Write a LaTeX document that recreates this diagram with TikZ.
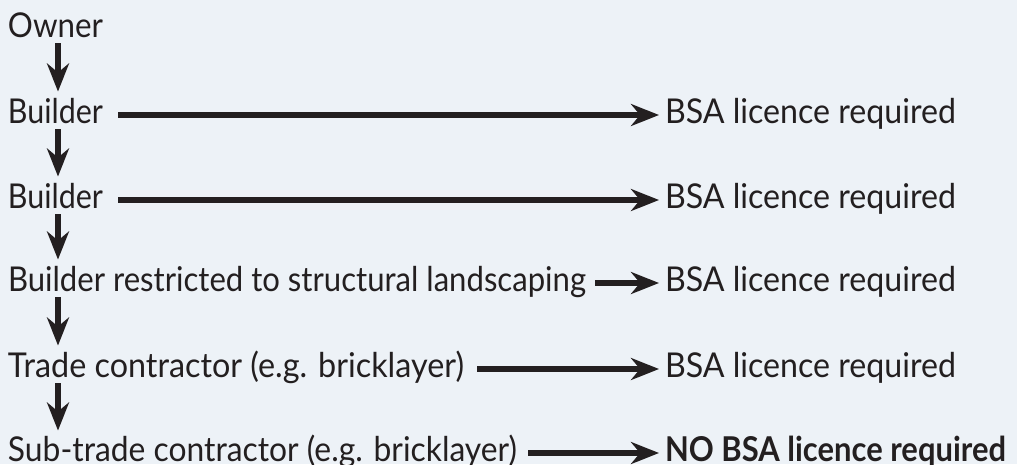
\documentclass[tikz,border=0pt]{standalone}
\usepackage{fontspec}
\setmainfont{Lato}
\usetikzlibrary{arrows.meta}
\definecolor{bgc}{HTML}{EDF2F7}
\definecolor{ink}{HTML}{231F20}
\newcommand{\fitw}[2]{\resizebox{#1pt}{\height}{#2}}
\begin{document}
\begin{tikzpicture}[x=1pt,y=-1pt,
  txt/.style={anchor=base west, inner sep=0pt, outer sep=0pt, text=ink, font=\fontsize{34.2}{40}\selectfont},
  conn/.style={draw=ink, line width=5.5pt, -{Stealth[length=28pt,width=22pt,inset=9pt]}}]
\fill[bgc] (0,0) rectangle (1017,464);
\useasboundingbox (0,0) rectangle (1017,464);
% left column
\node[txt] (o)  at (8,37)  {\fitw{95}{Owner}};
\node[txt] (b1) at (8,123) {\fitw{95}{Builder}};
\node[txt] (b2) at (8,208) {\fitw{95}{Builder}};
\node[txt] (b3) at (8,291) {\fitw{578}{Builder restricted to structural landscaping}};
\node[txt] (t)  at (8,377) {\fitw{456}{Trade contractor (e.g. bricklayer)}};
\node[txt] (s)  at (8,461) {\fitw{509}{Sub-trade contractor (e.g. bricklayer)}};
% right column
\node[txt] (r1) at (665,123) {\fitw{291}{BSA licence required}};
\node[txt] (r2) at (665,208) {\fitw{291}{BSA licence required}};
\node[txt] (r3) at (665,291) {\fitw{291}{BSA licence required}};
\node[txt] (r4) at (665,377) {\fitw{291}{BSA licence required}};
\node[txt] (r5) at (665,461) {\fitw{341}{\bfseries NO BSA licence required}};
% vertical arrows
\draw[conn] ([xshift=50pt,yshift=-6pt]o.base west)  -- ([xshift=50pt,yshift=31.5pt]b1.base west);
\draw[conn] ([xshift=50pt,yshift=-6pt]b1.base west) -- ([xshift=50pt,yshift=31.5pt]b2.base west);
\draw[conn] ([xshift=50pt,yshift=-6pt]b2.base west) -- ([xshift=50pt,yshift=31.5pt]b3.base west);
\draw[conn] ([xshift=50pt,yshift=-6pt]b3.base west) -- ([xshift=50pt,yshift=31.5pt]t.base west);
\draw[conn] ([xshift=50pt,yshift=-6pt]t.base west)  -- ([xshift=50pt,yshift=30.5pt]s.base west);
% horizontal arrows
\draw[conn] ([xshift=15pt,yshift=8pt]b1.base east) -- ([xshift=-6pt,yshift=8pt]r1.base west);
\draw[conn] ([xshift=15pt,yshift=8pt]b2.base east) -- ([xshift=-6pt,yshift=8pt]r2.base west);
\draw[conn] ([xshift=9pt,yshift=8pt]b3.base east)  -- ([xshift=-6pt,yshift=8pt]r3.base west);
\draw[conn] ([xshift=13pt,yshift=8pt]t.base east)  -- ([xshift=-6pt,yshift=8pt]r4.base west);
\draw[conn] ([xshift=11pt,yshift=8pt]s.base east)  -- ([xshift=-6pt,yshift=8pt]r5.base west);
\end{tikzpicture}
\end{document}
